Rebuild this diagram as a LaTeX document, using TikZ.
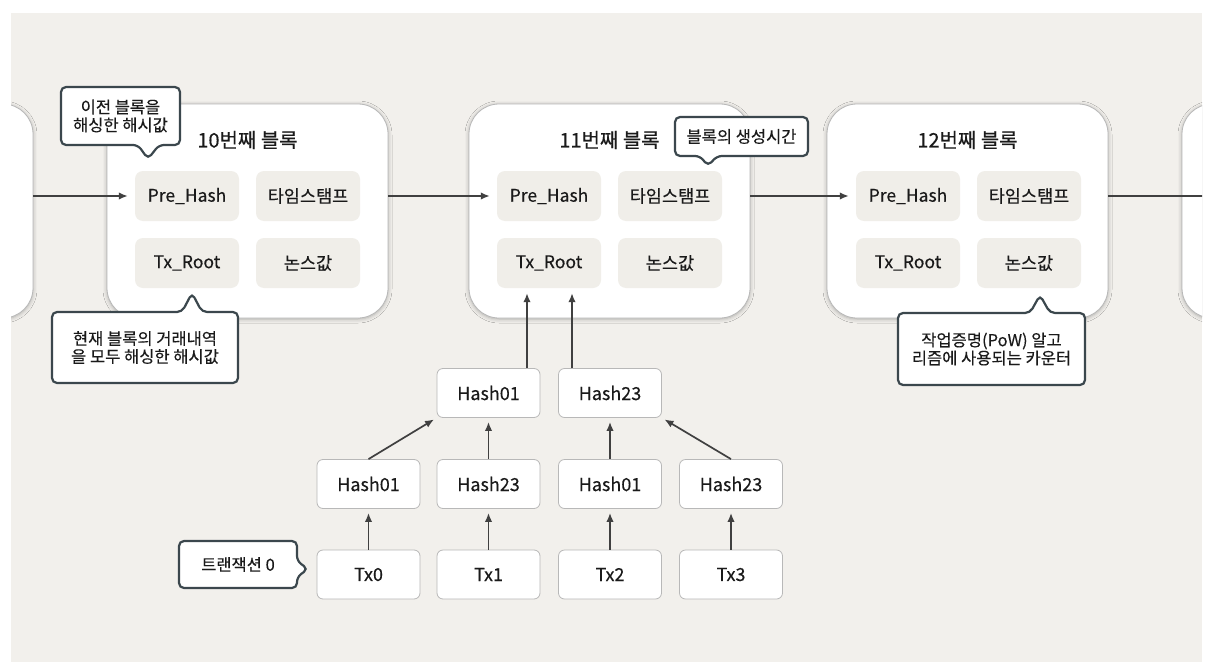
\documentclass[tikz,border=0pt]{standalone}
\usepackage{fontspec}
\setmainfont[FakeBold=0.3]{Noto Sans CJK KR}
\usetikzlibrary{arrows.meta,shadows.blur}

\definecolor{bgbeige}{HTML}{F2F0EC}
\definecolor{cellbeige}{HTML}{F0EEE9}
\definecolor{notedark}{HTML}{3B474D}
\definecolor{linkgray}{HTML}{404040}
\definecolor{edgegray}{HTML}{B8B8B8}
\definecolor{inkblack}{HTML}{1A1A1A}

\tikzset{
  blockbox/.style={draw=edgegray, line width=0.8pt, fill=white, rounded corners=30pt,
    minimum width=281pt, minimum height=214pt,
    blur shadow={shadow xshift=0pt, shadow yshift=-1pt, shadow blur radius=4pt, shadow opacity=30}},
  blocktitle/.style={text=inkblack, inner sep=0pt, font=\fontsize{20}{22}\selectfont},
  cellbox/.style={fill=cellbeige, rounded corners=8pt, minimum width=104pt, minimum height=50pt,
    inner sep=0pt, text=inkblack, font=\fontsize{17.5}{20}\selectfont},
  treebox/.style={draw=edgegray, line width=0.8pt, fill=white, rounded corners=6pt,
    minimum width=103pt, minimum height=49pt, inner sep=0pt, text=inkblack,
    font=\fontsize{18}{20}\selectfont},
  link/.style={draw=linkgray, line width=1.7pt, -{Latex[length=9pt,width=7.5pt]}},
  notebox/.style={draw=notedark, line width=2.2pt, fill=white, rounded corners=5pt},
  notetext/.style={align=center, inner sep=0pt, text=inkblack, font=\fontsize{16.5}{18}\selectfont}
}

\begin{document}
\begin{tikzpicture}[x=1pt, y=-1pt]
  \useasboundingbox (0,0) rectangle (1207,669);
  \fill[white] (0,0) rectangle (1207,669);
  \fill[bgbeige] (11,13) rectangle (1202,662);

  \begin{scope}
  \clip (11,13) rectangle (1202,662);

  % blocks
  \node[blockbox] (bprev) at (-107.5,211) {};
  \node[blockbox] (b10) at (247.5,211) {};
  \node[blockbox] (b11) at (609.5,211) {};
  \node[blockbox] (b12) at (967.5,211) {};
  \node[blockbox] (bnext) at (1322.5,211) {};

  \node[blocktitle] (t10) at (247.5,140) {10번째 블록};
  \node[cellbox] (pre10) at (187,196) {Pre\_Hash};
  \node[cellbox] (time10) at (308,196) {타임스탬프};
  \node[cellbox] (root10) at (187,263) {Tx\_Root};
  \node[cellbox] (nonce10) at (308,263) {논스값};

  \node[blocktitle] (t11) at (609.5,140) {11번째 블록};
  \node[cellbox] (pre11) at (549,196) {Pre\_Hash};
  \node[cellbox] (time11) at (670,196) {타임스탬프};
  \node[cellbox] (root11) at (549,263) {Tx\_Root};
  \node[cellbox] (nonce11) at (670,263) {논스값};

  \node[blocktitle] (t12) at (967.5,140) {12번째 블록};
  \node[cellbox] (pre12) at (908,196) {Pre\_Hash};
  \node[cellbox] (time12) at (1029,196) {타임스탬프};
  \node[cellbox] (root12) at (908,263) {Tx\_Root};
  \node[cellbox] (nonce12) at (1029,263) {논스값};

  \coordinate (nextin) at (1230,196);

  % chain
  \draw[link, shorten >=7pt] (bprev.east |- pre10.west) -- (pre10.west);
  \draw[link, shorten >=7pt] (b10.east |- pre11.west) -- (pre11.west);
  \draw[link, shorten >=7pt] (b11.east |- pre12.west) -- (pre12.west);
  \draw[link, -] (b12.east |- time12.east) -- (nextin);

  % merkle tree
  \node[treebox] (tx0) at (368.5,574.5) {Tx0};
  \node[treebox] (tx1) at (488.5,574.5) {Tx1};
  \node[treebox] (tx2) at (610,574.5) {Tx2};
  \node[treebox] (tx3) at (731,574.5) {Tx3};
  \node[treebox] (h0) at (368.5,484) {Hash01};
  \node[treebox] (h1) at (488.5,484) {Hash23};
  \node[treebox] (h2) at (610,484) {Hash01};
  \node[treebox] (h3) at (731,484) {Hash23};
  \node[treebox] (h01) at (488.5,393) {Hash01};
  \node[treebox] (h23) at (610,393) {Hash23};

  \draw[link, shorten >=4pt] (tx0) -- (h0);
  \draw[link, shorten >=4pt] (tx1) -- (h1);
  \draw[link, shorten >=4pt] (tx2) -- (h2);
  \draw[link, shorten >=4pt] (tx3) -- (h3);
  \draw[link, shorten >=3pt] (h0.north) -- (h01.south west);
  \draw[link, shorten >=4pt] (h1) -- (h01);
  \draw[link, shorten >=4pt] (h2) -- (h23);
  \draw[link, shorten >=3pt] (h3.north) -- (h23.south east);
  \draw[link, shorten >=5pt] ([xshift=38.5pt]h01.north) -- ([xshift=38.5pt]h01.north |- root11.south);
  \draw[link, shorten >=5pt] ([xshift=-38pt]h23.north) -- ([xshift=-38pt]h23.north |- root11.south);

  % callouts
  \draw[notebox] (61,87) -- (180,87) -- (180,145) -- (159,145) -- (148,159) -- (138,145) -- (61,145) -- cycle;
  \node[notetext] (n1) at (120.5,116) {이전 블록을\\해싱한 해시값};

  \draw[notebox] (52,312) -- (182,312) -- (192,293) -- (202,312) -- (238,312) -- (238,383) -- (52,383) -- cycle;
  \node[notetext] (n2) at (145,347.5) {현재 블록의 거래내역\\을 모두 해싱한 해시값};

  \draw[notebox] (675,117) -- (808,117) -- (808,156) -- (717,156) -- (708,166) -- (700,156) -- (675,156) -- cycle;
  \node[notetext] (n3) at (741.5,136.5) {블록의 생성시간};

  \draw[notebox] (898,313) -- (1030,313) -- (1040,295) -- (1050,313) -- (1085,313) -- (1085,385) -- (898,385) -- cycle;
  \node[notetext] (n4) at (991.5,349) {작업증명(PoW) 알고\\리즘에 사용되는 카운터};

  \draw[notebox] (179,541) -- (297,541) -- (297,561) -- (308,569) -- (297,577) -- (297,588) -- (179,588) -- cycle;
  \node[notetext] (n5) at (238,564.5) {트랜잭션 0};
  \end{scope}
\end{tikzpicture}
\end{document}
